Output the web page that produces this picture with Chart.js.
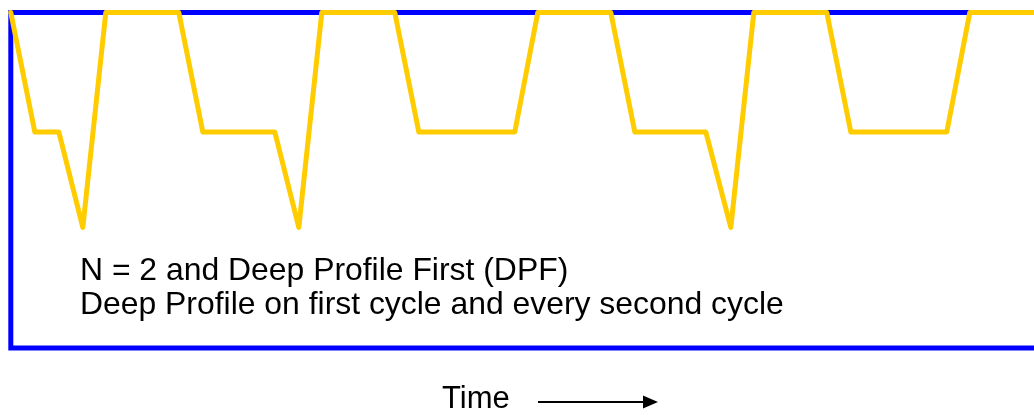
<!DOCTYPE html>
<html>
<head>
<meta charset="utf-8">
<script src="https://cdn.jsdelivr.net/npm/chart.js@4/dist/chart.umd.min.js"></script>
<style>
  html, body { margin: 0; padding: 0; background: #ffffff; overflow: hidden; width: 1034px; height: 416px; }
  #wrap { position: absolute; left: 0; top: 0; width: 1060px; height: 416px; }
  .txt { position: absolute; font-family: "Liberation Sans", Arial, Helvetica, sans-serif; font-size: 31.9px; line-height: 33.5px; color: #000; white-space: nowrap; }
</style>
</head>
<body>
<div id="wrap"><canvas id="c" width="1060" height="416"></canvas></div>
<div class="txt" style="left:80px; top:253px;">N = 2 and Deep Profile First (DPF)<br>Deep Profile on first cycle and every second cycle</div>
<div class="txt" style="left:442px; top:381px; font-size:31px;">Time</div>
<script>
// Time (arbitrary units) and depth (dbar) of the float trajectory
const timeValues  = [0, 24, 48, 72, 95, 168, 192, 264, 288, 311, 384, 408, 504, 527, 600, 624, 695, 720, 743, 816, 840, 936, 959, 1040];
const depthValues = [0, 1000, 1000, 1800, 0, 0, 1000, 1000, 1800, 0, 0, 1000, 1000, 0, 0, 1000, 1000, 1800, 0, 0, 1000, 1000, 0, 0];
const timeRange  = [0, 1040];
const depthRange = [0, 2810];

const points = timeValues.map((t, i) => ({ x: t, y: depthValues[i] }));

const frame = {
  id: 'frame',
  beforeDatasetsDraw(chart) {
    const { ctx, chartArea: a } = chart;
    ctx.save();
    ctx.strokeStyle = '#0000FF';
    ctx.lineWidth = 5;
    ctx.strokeRect(a.left, a.top, a.right - a.left, a.bottom - a.top);
    ctx.restore();
  },
  afterDraw(chart) {
    const ctx = chart.ctx;
    ctx.save();
    ctx.strokeStyle = '#000';
    ctx.fillStyle = '#000';
    ctx.lineWidth = 2;
    ctx.beginPath();
    ctx.moveTo(538, 402);
    ctx.lineTo(645, 402);
    ctx.stroke();
    ctx.beginPath();
    ctx.moveTo(643, 395.5);
    ctx.lineTo(658, 402);
    ctx.lineTo(643, 408.5);
    ctx.closePath();
    ctx.fill();
    ctx.restore();
  }
};

new Chart(document.getElementById('c'), {
  type: 'line',
  data: {
    datasets: [{
      data: points,
      borderColor: '#FFCC00',
      borderWidth: 5,
      borderJoinStyle: 'round',
      borderCapStyle: 'round',
      pointRadius: 0,
      tension: 0,
      fill: false,
      clip: false
    }]
  },
  options: {
    responsive: false,
    animation: false,
    events: [],
    layout: { padding: { left: 10.8, top: 12.5, right: 9.2, bottom: 68 } },
    plugins: { legend: { display: false }, tooltip: { enabled: false }, title: { display: false } },
    scales: {
      x: { type: 'linear', min: timeRange[0], max: timeRange[1], display: false },
      y: { type: 'linear', min: depthRange[0], max: depthRange[1], reverse: true, display: false }
    }
  },
  plugins: [frame]
});
</script>
</body>
</html>
